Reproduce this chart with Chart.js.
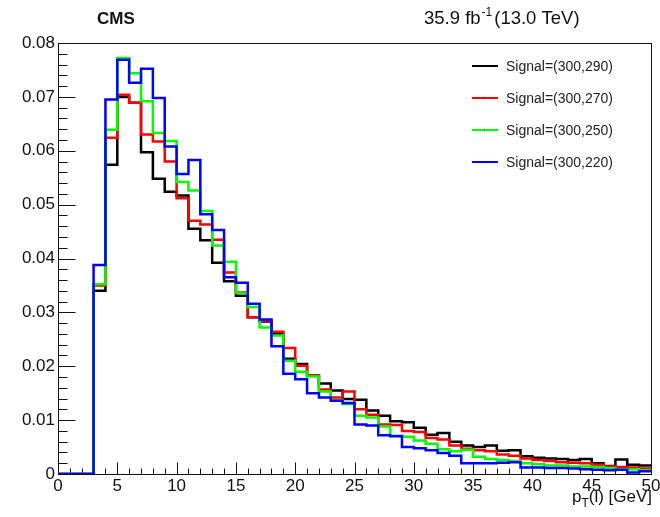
<!DOCTYPE html>
<html>
<head>
<meta charset="utf-8">
<title>pT(l) signal shapes</title>
<script src="https://cdn.jsdelivr.net/npm/chart.js@4.4.1/dist/chart.umd.min.js"></script>
<style>
  html, body { margin: 0; padding: 0; background: #fff; }
  #wrap { width: 660px; height: 517px; }
</style>
</head>
<body>
<div id="wrap"><canvas id="ptChart" width="660" height="517"></canvas></div>
<script>
// bin edges in GeV (1 GeV bins from 0 to 50)
const binEdges = [0, 1, 2, 3, 4, 5, 6, 7, 8, 9, 10, 11, 12, 13, 14, 15, 16, 17, 18, 19,
  20, 21, 22, 23, 24, 25, 26, 27, 28, 29, 30, 31, 32, 33, 34, 35, 36, 37, 38, 39,
  40, 41, 42, 43, 44, 45, 46, 47, 48, 49, 50];

// normalised lepton pT shapes, one value per bin
const sig290 = [0, 0, 0, 0.0340, 0.0574, 0.0700, 0.0689, 0.0597, 0.0548, 0.0524,
  0.0517, 0.0455, 0.0434, 0.0392, 0.0358, 0.0331, 0.0291, 0.0283, 0.0260, 0.0214,
  0.0204, 0.0183, 0.0168, 0.0155, 0.0139, 0.0138, 0.0118, 0.0108, 0.0098, 0.0096,
  0.0086, 0.0073, 0.0076, 0.0060, 0.0053, 0.0050, 0.0053, 0.0043, 0.0044, 0.0033,
  0.0030, 0.0029, 0.0028, 0.0026, 0.0028, 0.0020, 0.0015, 0.0027, 0.0017, 0.0016];
const sig270 = [0, 0, 0, 0.0350, 0.0624, 0.0704, 0.0689, 0.0630, 0.0617, 0.0580,
  0.0512, 0.0470, 0.0463, 0.0435, 0.0374, 0.0337, 0.0291, 0.0285, 0.0264, 0.0234,
  0.0201, 0.0183, 0.0157, 0.0142, 0.0153, 0.0120, 0.0110, 0.0092, 0.0091, 0.0080,
  0.0078, 0.0067, 0.0064, 0.0053, 0.0047, 0.0044, 0.0042, 0.0036, 0.0034, 0.0029,
  0.0026, 0.0024, 0.0022, 0.0021, 0.0020, 0.0017, 0.0014, 0.0013, 0.0012, 0.0010];
const sig250 = [0, 0, 0, 0.0352, 0.0639, 0.0772, 0.0744, 0.0692, 0.0633, 0.0618,
  0.0542, 0.0526, 0.0488, 0.0424, 0.0394, 0.0336, 0.0310, 0.0272, 0.0257, 0.0210,
  0.0190, 0.0181, 0.0153, 0.0137, 0.0130, 0.0108, 0.0105, 0.0088, 0.0071, 0.0069,
  0.0062, 0.0056, 0.0046, 0.0042, 0.0045, 0.0032, 0.0028, 0.0026, 0.0024, 0.0020,
  0.0018, 0.0016, 0.0016, 0.0014, 0.0014, 0.0013, 0.0011, 0.0009, 0.0009, 0.0007];
const sig220 = [0, 0, 0, 0.0388, 0.0695, 0.0769, 0.0726, 0.0752, 0.0698, 0.0608,
  0.0557, 0.0583, 0.0482, 0.0453, 0.0365, 0.0355, 0.0316, 0.0287, 0.0237, 0.0186,
  0.0176, 0.0150, 0.0142, 0.0136, 0.0132, 0.0092, 0.0090, 0.0072, 0.0070, 0.0050,
  0.0048, 0.0044, 0.0039, 0.0034, 0.0020, 0.0020, 0.0020, 0.0021, 0.0022, 0.0012,
  0.0012, 0.0011, 0.0011, 0.0010, 0.0009, 0.0008, 0.0007, 0.0008, 0.0003, 0.0005];

const seriesLabels = ['Signal=(300,290)', 'Signal=(300,270)', 'Signal=(300,250)', 'Signal=(300,220)'];
const seriesColors = ['#000000', '#ff0000', '#00ff00', '#0000ff'];
const seriesValues = [sig290, sig270, sig250, sig220];

const yTicks = [0, 0.01, 0.02, 0.03, 0.04, 0.05, 0.06, 0.07, 0.08];
const xTicks = [0, 5, 10, 15, 20, 25, 30, 35, 40, 45, 50];

const FONT = '"Liberation Sans", Arial, Helvetica, sans-serif';

// histogram as a step line: one point per lower bin edge, plus the closing edge
function toSteps(values) {
  const pts = values.map((v, i) => ({ x: binEdges[i], y: v }));
  pts.push({ x: binEdges[binEdges.length - 1], y: values[values.length - 1] });
  return pts;
}

const datasets = seriesValues.map((vals, i) => ({
  label: seriesLabels[i],
  data: toSteps(vals),
  borderColor: seriesColors[i],
  backgroundColor: seriesColors[i],
  borderWidth: 2.5,
  stepped: 'before',
  pointRadius: 0,
  fill: false,
  order: seriesValues.length - i // later signals drawn on top
}));

// ROOT style frame with inward ticks, header, axis title and legend
const rootStyle = {
  id: 'rootStyle',
  beforeDatasetsDraw(chart) {
    const { ctx, chartArea: a, scales } = chart;
    const L = a.left + 0.5, R = a.right + 0.5, T = a.top + 0.5, B = a.bottom + 0.5;
    ctx.save();
    ctx.strokeStyle = '#111';
    ctx.lineWidth = 1;
    ctx.strokeRect(L, T, R - L, B - T);

    ctx.beginPath();
    // y ticks: major every 0.01, minor every 0.002
    for (let k = 0; k <= 40; k++) {
      const y = Math.round(scales.y.getPixelForValue(k * 0.002)) + 0.5;
      const len = k % 5 === 0 ? 17 : 9;
      ctx.moveTo(L, y);
      ctx.lineTo(L + len, y);
    }
    // x ticks: major every 5, minor every 1
    for (let k = 0; k <= 50; k++) {
      const x = Math.round(scales.x.getPixelForValue(k)) + 0.5;
      const len = k % 5 === 0 ? 12 : 6;
      ctx.moveTo(x, B);
      ctx.lineTo(x, B - len);
    }
    ctx.stroke();
    ctx.restore();
  },
  afterDraw(chart) {
    const { ctx, chartArea: a } = chart;
    ctx.save();
    ctx.fillStyle = '#111';
    ctx.textBaseline = 'alphabetic';

    // header
    ctx.font = 'bold 17px ' + FONT;
    ctx.textAlign = 'left';
    ctx.fillText('CMS', 97, 24);

    let x = 424;
    ctx.font = '18.5px ' + FONT;
    ctx.fillText('35.9 fb', x, 24);
    x += ctx.measureText('35.9 fb').width + 1;
    ctx.font = '12px ' + FONT;
    ctx.fillText('-1', x, 16);
    x += ctx.measureText('-1').width + 2;
    ctx.font = '18.5px ' + FONT;
    ctx.fillText('(13.0 TeV)', x, 24);

    // x axis title, right aligned to the frame
    ctx.font = '17px ' + FONT;
    const wP = ctx.measureText('p').width;
    const wRest = ctx.measureText('(l) [GeV]').width;
    ctx.font = '12px ' + FONT;
    const wT = ctx.measureText('T').width;
    let tx = a.right + 1 - (wP + wT + wRest);
    ctx.font = '17px ' + FONT;
    ctx.fillText('p', tx, 502);
    tx += wP;
    ctx.font = '12px ' + FONT;
    ctx.fillText('T', tx, 507);
    tx += wT;
    ctx.font = '17px ' + FONT;
    ctx.fillText('(l) [GeV]', tx, 502);

    // legend
    const rows = [66, 98, 130, 162];
    ctx.font = '14px ' + FONT;
    ctx.textBaseline = 'middle';
    seriesLabels.forEach((lab, i) => {
      const y = rows[i];
      ctx.strokeStyle = seriesColors[i];
      ctx.lineWidth = 2;
      ctx.beginPath();
      ctx.moveTo(472, y);
      ctx.lineTo(498, y);
      ctx.stroke();
      if (i > 0) {
        ctx.fillStyle = '#000';
        ctx.fillRect(484, y - 0.5, 1, 1);
      }
      ctx.fillStyle = '#222';
      ctx.fillText(lab, 506, y + 1);
    });
    ctx.restore();
  }
};

new Chart(document.getElementById('ptChart').getContext('2d'), {
  type: 'line',
  data: { datasets },
  options: {
    responsive: false,
    animation: false,
    layout: { padding: { left: 0, right: 9, top: 43, bottom: 0 } },
    plugins: { legend: { display: false }, tooltip: { enabled: false } },
    scales: {
      x: {
        type: 'linear',
        min: 0,
        max: 50,
        grid: { display: false, drawTicks: false },
        border: { display: false },
        afterBuildTicks: s => { s.ticks = xTicks.map(v => ({ value: v })); },
        ticks: {
          color: '#111',
          font: { family: FONT, size: 17 },
          padding: 2,
          maxRotation: 0,
          autoSkip: false,
          callback: v => String(v)
        },
        afterFit: s => { s.height = 43; s.paddingLeft = 0; s.paddingRight = 0; }
      },
      y: {
        type: 'linear',
        min: 0,
        max: 0.08,
        grid: { display: false, drawTicks: false },
        border: { display: false },
        afterBuildTicks: s => { s.ticks = yTicks.map(v => ({ value: v })); },
        ticks: {
          color: '#111',
          font: { family: FONT, size: 17 },
          padding: 3,
          autoSkip: false,
          callback: v => (v === 0 ? '0' : v.toFixed(2))
        },
        afterFit: s => { s.width = 58; s.paddingTop = 0; s.paddingBottom = 0; }
      }
    }
  },
  plugins: [rootStyle]
});
</script>
</body>
</html>
